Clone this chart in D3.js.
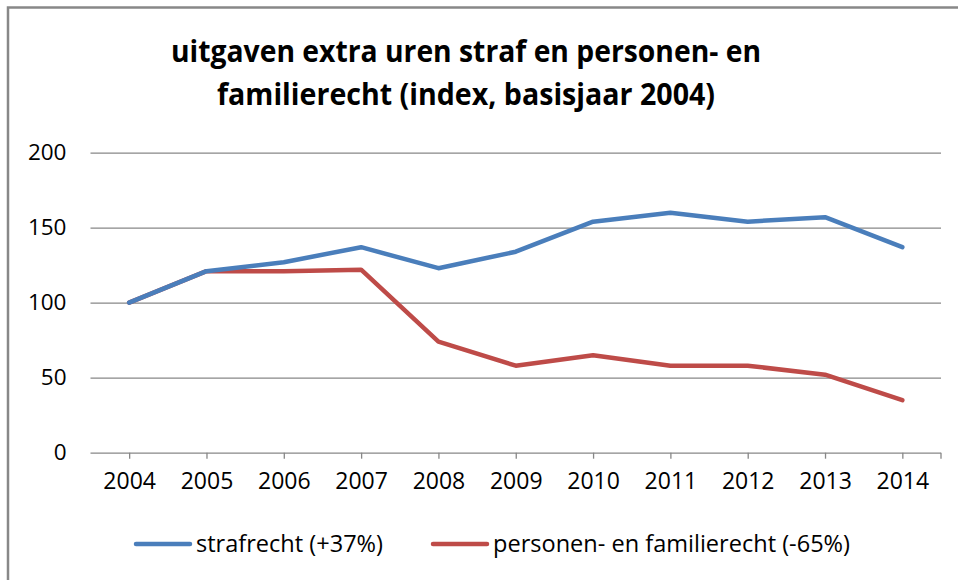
<!DOCTYPE html>
<html>
<head>
<meta charset="utf-8">
<script src="https://cdn.jsdelivr.net/npm/d3@7"></script>
<style>
  body { margin: 0; background: #fff; }
  text { font-family: "Open Sans", sans-serif; fill: #000; }
</style>
</head>
<body>
<script>
// chart data
var years = ["2004", "2005", "2006", "2007", "2008", "2009", "2010", "2011", "2012", "2013", "2014"];
var strafrecht = [100, 121, 127, 137, 123, 134, 154, 160, 154, 157, 137];
var personen = [100, 121, 121, 122, 74, 58, 65, 58, 58, 52, 35];
var yTicks = [0, 50, 100, 150, 200];
var titleLines = ["uitgaven extra uren straf en personen- en", "familierecht (index, basisjaar 2004)"];
var seriesNames = ["strafrecht (+37%)", "personen- en familierecht (-65%)"];

var width = 958, height = 580;
var colors = ["#4a7ebb", "#be4b48"];

var svg = d3.select("body").append("svg")
    .attr("width", width)
    .attr("height", height);

// outer chart border (only top and left visible, rest is cropped)
svg.append("path")
    .attr("d", "M8,580 V7.5 H958")
    .attr("fill", "none")
    .attr("stroke", "#888")
    .attr("stroke-width", 2.5);

// scales
var x = d3.scalePoint().domain(years).range([90.5, 941]).padding(0.5);
var y = d3.scaleLinear().domain([0, 200]).range([452.7, 152.7]);

// title
svg.selectAll(".title")
    .data(titleLines)
    .enter().append("text")
    .attr("class", "title")
    .attr("x", 466)
    .attr("y", function(d, i) { return 62 + i * 42.5; })
    .attr("text-anchor", "middle")
    .attr("textLength", function(d, i) { return i == 0 ? 590 : 498; })
    .attr("lengthAdjust", "spacingAndGlyphs")
    .style("font-weight", "bold")
    .style("font-size", "31px")
    .text(function(d) { return d; });

// gridlines + y labels
var yAxis = d3.axisLeft(y).tickValues(yTicks).tickSize(-(941 - 90.5)).tickPadding(24);
svg.append("g")
    .attr("transform", "translate(90.5,0)")
    .call(yAxis)
    .call(function(g) {
      g.select(".domain").remove();
      g.selectAll(".tick line").attr("stroke", "#878787").attr("stroke-width", 1.3);
      g.selectAll(".tick text").style("font-size", "22.5px").attr("fill", "#000");
    });

// x axis ticks and labels
var xAxis = d3.axisBottom(x).tickSize(6).tickPadding(14);
svg.append("g")
    .attr("transform", "translate(0,452.7)")
    .call(xAxis)
    .call(function(g) {
      g.select(".domain").remove();
      g.selectAll(".tick line").attr("stroke", "#878787").attr("stroke-width", 1.3);
      g.selectAll(".tick text").style("font-size", "23px").attr("fill", "#000");
    });
// extra tick at the end of the axis
svg.append("line")
    .attr("x1", 941).attr("x2", 941)
    .attr("y1", 452.7).attr("y2", 458.7)
    .attr("stroke", "#878787").attr("stroke-width", 1.3);

// lines
var line = d3.line()
    .x(function(d, i) { return x(years[i]); })
    .y(function(d) { return y(d); });

[personen, strafrecht].forEach(function(s) {
  svg.append("path")
      .datum(s)
      .attr("fill", "none")
      .attr("stroke", s === strafrecht ? colors[0] : colors[1])
      .attr("stroke-width", 4.5)
      .attr("stroke-linejoin", "round")
      .attr("stroke-linecap", "round")
      .attr("d", line);
});

// legend
var legendX = [136, 433];
var legendW = [187, 357];
var legend = svg.selectAll(".legend")
    .data(seriesNames)
    .enter().append("g")
    .attr("class", "legend")
    .attr("transform", function(d, i) { return "translate(" + legendX[i] + ",544)"; });

legend.append("line")
    .attr("x1", 0).attr("x2", 54)
    .attr("stroke", function(d, i) { return colors[i]; })
    .attr("stroke-width", 4.5)
    .attr("stroke-linecap", "round");

legend.append("text")
    .attr("x", 60)
    .attr("y", 8)
    .attr("textLength", function(d, i) { return legendW[i]; })
    .attr("lengthAdjust", "spacingAndGlyphs")
    .style("font-size", "23px")
    .text(function(d) { return d; });
</script>
</body>
</html>
